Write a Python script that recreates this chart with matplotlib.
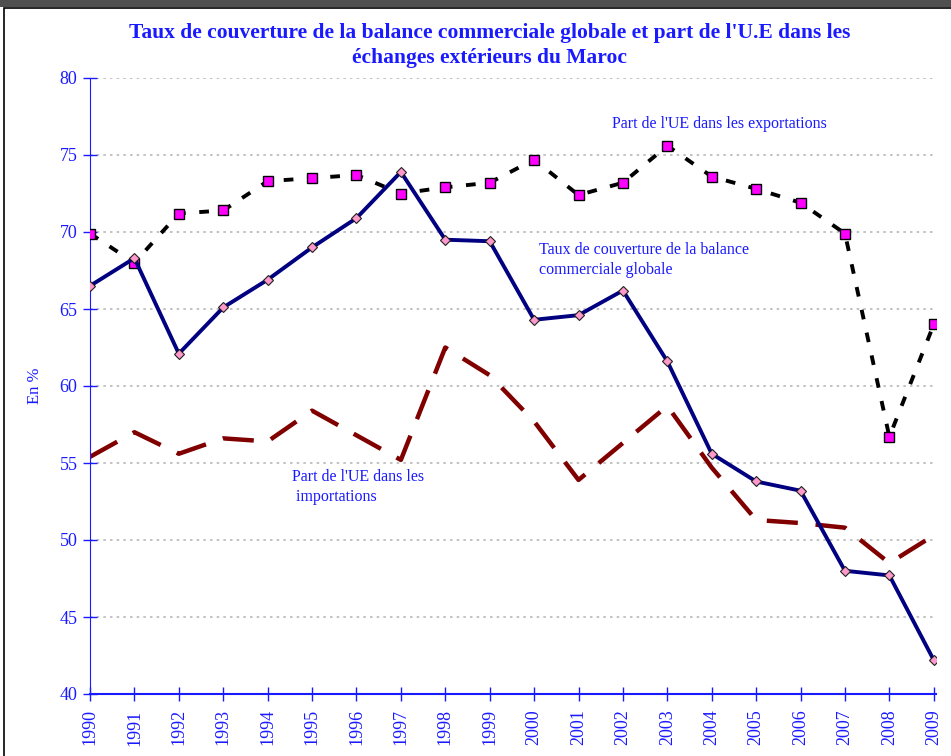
import matplotlib
matplotlib.use("Agg")
import matplotlib.pyplot as plt
from matplotlib.patches import Rectangle

plt.rcParams['font.family'] = ['Liberation Serif', 'DejaVu Serif']

annees = list(range(1990, 2010))

# Part de l'UE dans les exportations (%)
part_export = [69.9, 68.0, 71.2, 71.4, 73.3, 73.5, 73.7, 72.5, 72.9, 73.2,
               74.7, 72.4, 73.2, 75.6, 73.6, 72.8, 71.9, 69.9, 56.7, 64.0]
# Taux de couverture de la balance commerciale globale (%)
taux_couv = [66.5, 68.3, 62.1, 65.1, 66.9, 69.0, 70.9, 73.9, 69.5, 69.4,
             64.3, 64.6, 66.2, 61.6, 55.6, 53.8, 53.2, 48.0, 47.7, 42.2]
# Part de l'UE dans les importations (%)
part_import = [55.4, 57.0, 55.6, 56.6, 56.4, 58.4, 56.8, 55.2, 62.5, 60.7,
               57.7, 53.9, 56.3, 58.7, 54.7, 51.3, 51.1, 50.8, 48.5, 50.3]

bleu = '#1a1aff'

fig = plt.figure(figsize=(9.51, 7.56), dpi=100)
ax = fig.add_axes([90/951, 1-694/756, 846/951, 616/756])

# cadre du graphique
fig.patches.append(Rectangle((0, 1-7/756), 1, 7/756, transform=fig.transFigure,
                             facecolor='#505050', edgecolor='none'))
fig.patches.append(Rectangle((4/951, -0.01), 1.0, 1-8/756+0.01, transform=fig.transFigure,
                             facecolor='none', edgecolor='black', linewidth=1.2))

for y in range(45, 81, 5):
    ax.axhline(y, color='#b8b8b8', linestyle=(0, (1.5, 2.5)), linewidth=1.2, zorder=1)

ax.plot(annees, part_import, color='#800000', linewidth=3.2, linestyle=(0, (7, 4)), zorder=2)
ax.plot(annees, part_export, color='black', linewidth=2.8, linestyle=(0, (2.5, 3.5)),
        marker='s', markersize=7.5, markerfacecolor='#ff00ff', markeredgecolor='black',
        markeredgewidth=1, zorder=3)
ax.plot(annees, taux_couv, color='#000080', linewidth=2.8,
        marker='D', markersize=5.5, markerfacecolor='#ff99cc', markeredgecolor='#202020',
        markeredgewidth=0.8, zorder=4)

ax.set_xlim(1990, 2009.05)
ax.set_ylim(40, 80)
ax.set_yticks(range(40, 81, 5))
ax.set_xticks(annees)
ax.set_xticklabels([str(a) for a in annees], rotation=90, fontsize=13, color=bleu)
ax.tick_params(axis='y', labelsize=13, labelcolor=bleu, colors=bleu, direction='inout',
               length=10, width=1, pad=4)
ax.tick_params(axis='x', colors=bleu, direction='inout', length=10, width=1, pad=6)

for s in ['top', 'right']:
    ax.spines[s].set_visible(False)
ax.spines['left'].set_color(bleu)
ax.spines['bottom'].set_color(bleu)
ax.spines['bottom'].set_linewidth(1.5)
ax.patch.set_visible(False)

ax.set_ylabel('En %', fontsize=12, color=bleu, labelpad=12)

fig.text(490/951, 1-33/756, "Taux de couverture de la balance commerciale globale et part de l'U.E dans les",
         ha='center', va='center', fontsize=15.5, fontweight='bold', color=bleu)
fig.text(490/951, 1-58/756, "échanges extérieurs du Maroc",
         ha='center', va='center', fontsize=15.5, fontweight='bold', color=bleu)

ax.text(2001.75, 77.0, "Part de l'UE dans les exportations", fontsize=11.5, color=bleu,
        ha='left', va='center')
ax.text(2000.1, 68.2, "Taux de couverture de la balance\ncommerciale globale", fontsize=11.5,
        color=bleu, ha='left', va='center', linespacing=1.3)
ax.text(1994.55, 53.45, "Part de l'UE dans les\n importations", fontsize=11.5,
        color=bleu, ha='left', va='center', linespacing=1.3)

fig.savefig('out.png', dpi=100)
